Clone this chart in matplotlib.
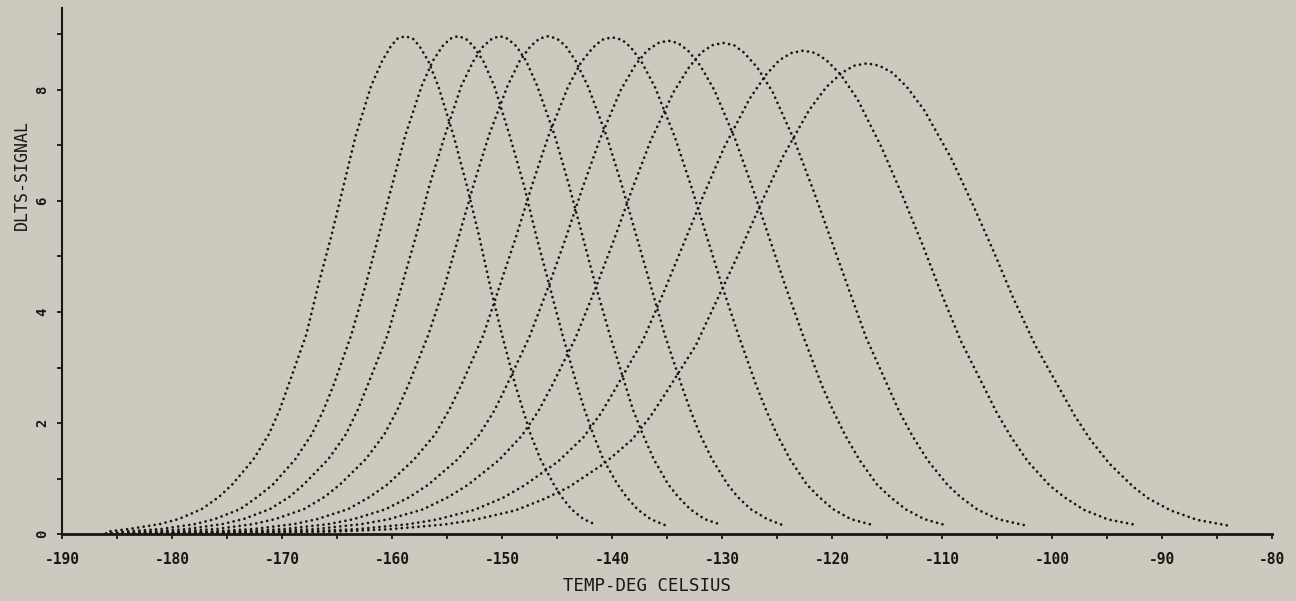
import matplotlib.pyplot as plt
from matplotlib.ticker import MultipleLocator

# fraction of each trace's maximum at the tabulated temperatures
# (rising flank, peak, falling flank, last recorded point)
signal_frac = [0, 0.005, 0.01, 0.02, 0.03, 0.05, 0.075, 0.1, 0.15, 0.2, 0.25, 0.3,
               0.4, 0.5, 0.6, 0.7, 0.8, 0.9, 0.95, 0.98, 0.995, 1.0,
               0.995, 0.98, 0.95, 0.9, 0.8, 0.7, 0.6, 0.5, 0.4, 0.3, 0.25, 0.2,
               0.15, 0.1, 0.075, 0.05, 0.03, 0.018]

peak_signal = [8.97, 8.97, 8.97, 8.97, 8.95, 8.89, 8.85, 8.71, 8.48]

temp_1 = [-186.0, -185.8, -183.9, -181.1, -179.4, -177.3, -175.7, -174.5, -172.6, -171.2,
          -170.2, -169.4, -167.8, -166.7, -165.5, -164.4, -163.3, -161.9, -160.9, -160.1,
          -159.5, -158.8,
          -158.1, -157.5, -156.7, -155.8, -154.4, -153.2, -152.1, -151.1, -150.0, -148.8,
          -148.1, -147.4, -146.5, -145.3, -144.6, -143.7, -142.6, -141.4]
temp_2 = [-186.0, -184.2, -181.0, -177.9, -176.1, -173.8, -172.2, -170.8, -168.8, -167.3,
          -166.2, -165.3, -163.7, -162.4, -161.2, -160.0, -158.8, -157.3, -156.3, -155.4,
          -154.7, -154.0,
          -153.3, -152.6, -151.7, -150.7, -149.3, -148.0, -146.9, -145.7, -144.5, -143.2,
          -142.5, -141.7, -140.8, -139.5, -138.7, -137.7, -136.5, -135.2]
temp_3 = [-186.0, -182.0, -178.6, -175.4, -173.5, -171.1, -169.3, -168.0, -165.8, -164.2,
          -163.1, -162.2, -160.4, -159.1, -157.8, -156.6, -155.2, -153.7, -152.6, -151.7,
          -150.9, -150.2,
          -149.5, -148.7, -147.8, -146.8, -145.2, -143.9, -142.7, -141.5, -140.2, -138.8,
          -138.1, -137.2, -136.2, -134.9, -134.0, -132.9, -131.6, -130.0]
temp_4 = [-186.0, -179.6, -176.0, -172.6, -170.6, -168.0, -166.1, -164.7, -162.4, -160.7,
          -159.5, -158.5, -156.7, -155.2, -153.9, -152.6, -151.2, -149.5, -148.4, -147.4,
          -146.6, -145.8,
          -145.0, -144.2, -143.3, -142.2, -140.5, -139.1, -137.8, -136.5, -135.2, -133.7,
          -132.9, -132.0, -130.9, -129.5, -128.6, -127.4, -125.9, -124.5]
temp_5 = [-186.0, -176.5, -172.6, -168.9, -166.8, -164.0, -162.0, -160.4, -158.0, -156.1,
          -154.8, -153.7, -151.7, -150.2, -148.7, -147.3, -145.8, -144.0, -142.8, -141.7,
          -140.9, -140.0,
          -139.1, -138.3, -137.3, -136.1, -134.3, -132.8, -131.4, -130.0, -128.5, -126.9,
          -126.0, -125.0, -123.8, -122.3, -121.2, -119.9, -118.3, -116.3]
temp_6 = [-186.0, -173.9, -169.8, -165.8, -163.5, -160.6, -158.4, -156.7, -154.1, -152.1,
          -150.7, -149.6, -147.5, -145.8, -144.2, -142.7, -141.1, -139.2, -137.9, -136.8,
          -135.8, -134.9,
          -134.0, -133.1, -132.0, -130.7, -128.8, -127.2, -125.7, -124.2, -122.6, -120.9,
          -119.9, -118.8, -117.5, -115.9, -114.7, -113.3, -111.6, -109.7]
temp_7 = [-186.0, -171.4, -167.0, -162.8, -160.3, -157.2, -154.9, -153.1, -150.3, -148.2,
          -146.7, -145.5, -143.3, -141.5, -139.8, -138.2, -136.5, -134.4, -133.0, -131.9,
          -130.9, -129.9,
          -128.9, -128.0, -126.8, -125.4, -123.4, -121.7, -120.1, -118.5, -116.9, -114.9,
          -113.9, -112.7, -111.3, -109.5, -108.3, -106.8, -104.9, -102.5]
temp_8 = [-186.0, -168.0, -163.2, -158.6, -155.9, -152.5, -149.9, -148.0, -144.9, -142.6,
          -141.0, -139.7, -137.2, -135.3, -133.5, -131.7, -129.8, -127.5, -126.0, -124.8,
          -123.7, -122.6,
          -121.5, -120.5, -119.2, -117.7, -115.5, -113.6, -111.8, -110.1, -108.3, -106.1,
          -105.0, -103.7, -102.2, -100.2, -98.8, -97.1, -94.9, -92.2]
temp_9 = [-186.0, -165.4, -160.3, -155.3, -152.5, -148.8, -146.1, -143.9, -140.7, -138.2,
          -136.5, -135.1, -132.4, -130.4, -128.4, -126.5, -124.5, -122.1, -120.5, -119.1,
          -118.0, -116.8,
          -115.7, -114.5, -113.2, -111.6, -109.2, -107.2, -105.3, -103.5, -101.5, -99.1,
          -97.9, -96.5, -94.8, -92.6, -91.2, -89.2, -86.8, -84.0]

traces = [temp_1, temp_2, temp_3, temp_4, temp_5, temp_6, temp_7, temp_8, temp_9]

x_ticks = list(range(-190, -79, 10))
x_ticklabels = [str(t) for t in x_ticks]
y_ticks = [0, 2, 4, 6, 8]

paper = '#cdc9bf'
ink = '#1c1515'
mono = 'DejaVu Sans Mono'

fig = plt.figure(figsize=(12.96, 6.01), dpi=100, facecolor=paper)
ax = fig.add_axes([62 / 1296, 1 - 534 / 601, 1210 / 1296, 526 / 601])
ax.set_facecolor(paper)

for temps, top in zip(traces, peak_signal):
    sig = [f * top for f in signal_frac]
    ax.plot(temps, sig, color=ink, lw=2.0, linestyle=(0, (0.01, 2.0)),
            dash_capstyle='round')

ax.set_xlim(-190, -80)
ax.set_ylim(0, 526 / 55.5)

for side in ['top', 'right']:
    ax.spines[side].set_visible(False)
ax.spines['left'].set_color(ink)
ax.spines['left'].set_linewidth(1.5)
ax.spines['bottom'].set_color(ink)
ax.spines['bottom'].set_linewidth(2.0)

ax.set_xticks(x_ticks)
ax.set_xticklabels(x_ticklabels, fontfamily=mono, fontweight='bold', fontsize=10.5)
ax.xaxis.set_minor_locator(MultipleLocator(5))
ax.set_yticks(y_ticks)
ax.set_yticklabels([str(v) for v in y_ticks], fontfamily=mono, fontweight='bold',
                   fontsize=10, rotation=90, va='center')
ax.yaxis.set_minor_locator(MultipleLocator(1))

ax.tick_params(axis='both', which='both', direction='out', length=3.8, width=1.3,
               color=ink, labelcolor=ink)
ax.tick_params(axis='x', which='major', pad=9.5)
ax.tick_params(axis='y', which='major', pad=5.5)

ax.set_xlabel('TEMP-DEG CELSIUS', fontfamily=mono, fontsize=12.5, color=ink)
ax.xaxis.set_label_coords(585 / 1210, -43 / 526)
fig.text(22 / 1296, 1 - 175 / 601, 'DLTS-SIGNAL', rotation=90, ha='center',
         va='center', fontfamily=mono, fontsize=12, color=ink)

fig.savefig('out.png', dpi=100, facecolor=paper)
